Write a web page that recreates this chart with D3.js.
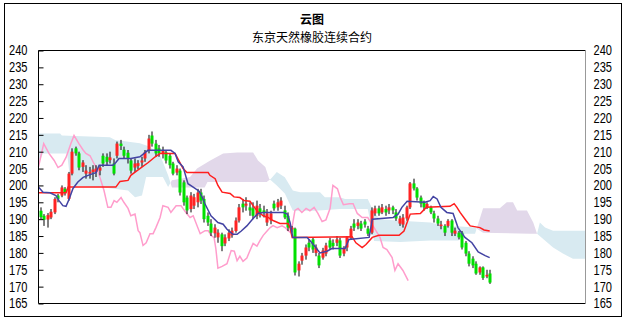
<!DOCTYPE html>
<html>
<head>
<meta charset="utf-8">
<script src="https://cdn.jsdelivr.net/npm/d3@7"></script>
<style>
    body { margin: 0; background: #fff; }
</style>
</head>
<body>
<div id="chart"></div>
<script>

// titles
const chartTitle = "云图";
const chartSubtitle = "东京天然橡胶连续合约";

// y axis tick labels
const yTicks = [240, 235, 230, 225, 220, 215, 210, 205, 200, 195, 190, 185, 180, 175, 170, 165];

// daily candles (index 0 = first bar on the left)
const opens = [192.5,191,189.9,190.5,192,197,197,199,196,203.5,211,209.5,205.5,203.5,203.5,204,204,204.4,208.8,208.5,
    207.5,206.5,208.8,212.4,210.6,209.7,207.4,205.3,205.8,206.8,208,210.4,214.8,212.4,211,209.5,209.8,208.8,206.5,203.8,
    204.4,200.9,196.4,193,194,195,197.9,196,191,188.7,185.8,184.6,185.5,182.8,184.3,185.2,186.5,189.6,194.6,194,
    193.5,193.2,191,193.2,192.6,189,189.6,194.6,193.5,194,192.6,191,187,187.2,174.8,177.7,179.2,183,184,180,
    179.2,178.6,179.8,183.7,183,183,183.7,179.8,181.6,184.6,188.7,188,188.7,189.3,187.2,186,191.7,193.2,192,193,
    192.6,193.5,192,188.7,188.4,190.2,193.5,200.6,199.1,196.4,195,193.5,193.5,191.7,190.2,188,188,188,189.6,185.7,
    186,186,183,179.8,178.3,176.8,174.2,175.7,173,173.9];
const closes = [190.6,189.8,191.2,192.2,196,196,199.4,198,203.5,210,209.5,205.3,206.8,204.4,204,204.7,205,205.3,206.5,207,
    208.3,203.5,212.4,211.7,208.8,208,204.4,206.5,206.6,207.4,209.8,213.9,212.4,209.5,209.5,210.4,207.4,206,203.5,205,
    197.9,195,192.6,197,196.5,197.9,195.5,190,189,186,187.5,186,182,184.6,186,186.6,189.6,193.5,193.5,194.6,
    192.6,191,194,191.7,192,191.7,191.7,193.2,195,195.5,190.5,187.5,187.5,174.2,176.8,179.2,181.6,181.6,181,181.6,
    176.3,180.7,182.2,181.6,182,184,179.2,181.3,184.6,187.2,187.5,189,187.2,188.4,185.7,192.6,193.2,191.7,193.5,192,
    193.5,192.6,190.2,190.2,190.5,193.5,200.6,199.1,196.4,194.6,193.5,194.5,192,190.2,188.7,188.4,186,189.5,186,186.6,
    184.6,181.6,179.8,176.8,176.3,173.9,175.7,172.6,173.5,171.2];
const highs = [193.5,191.5,191.8,193,196.5,197.5,200,199.5,204,211,211.5,210,207.5,206,205.5,206,206,206,209.5,209.5,
    210,208,213,213.5,211.5,210.5,208,208,207.5,208.5,210.5,215,216,213.5,212,211.5,210.5,209.5,207,206,
    205,201.5,197,198,197.5,199,199,197,192,190,188.5,187,186,185.5,187,187.5,190.5,194.5,196,196.5,
    195,195,195.5,194.5,194,193,192.5,195.5,196,196.5,194,192,188,187.5,177.5,180,182.5,184,184.6,182.5,
    180,181.5,183,184.5,184,185,184.5,182,185,188,190,190,189.5,190,188,193.5,194,194,194.5,194,
    194.5,194,193,191,191.5,194,201,202,199.5,197,195.5,195,194,192.5,191,189.5,188.5,190,190,187.5,
    186.5,186.5,183.5,180.5,179,177.5,176,176,175,175];
const lows = [190,188,187.5,190,191.5,195,196.5,197,195.5,203,208.8,204.5,204,202,202,201.5,202.5,203,205.5,206,
    206.5,203,208,210.5,208,206.5,203.5,204,204.8,205.5,207,209.5,211.5,208.5,208.5,208,206.5,205,203,203,
    197,194,191.5,192,193,193.5,194.5,189,188,185,184.5,183,180.5,182,183.5,184.5,186,189,192,192.5,
    191,190,190,190.5,190.5,188,188.5,192.5,192.5,193,190,186.5,186,173.3,173,176.5,178,180.5,180,179,
    175.5,178,179,181,181,182,178.5,179,180.5,184,186.5,187,186.5,187.5,185,185.5,191,191,191.5,191,
    191.5,191.5,189.5,188,187.5,189.5,193,198.5,195.5,193.5,192.5,193,191.5,189,188,187,185,187.5,185,185,
    184,181,179,176,175.5,173.5,173.5,172,172.5,170.8];

// indicator lines, [bar index, value]
const tenkanPts = [[-0.5,199.5],[0.8,198],[2.8,197.8],[4.5,197],[5.4,195.5],[6.5,194],[7.4,193.8],[8.3,196],[9.4,199.1],
    [10.8,201],[12.3,202.4],[14.3,203.2],[16,203.8],[16.9,206],[20.9,206],[21.7,206.8],[22.6,208],[26,208],[28.6,208.5],
    [30.9,210.4],[37.5,210.4],[38.7,209.5],[39.6,207],[41,205.5],[42.4,200.5],[43.9,199.5],[45.6,198.3],[46.5,196.5],
    [47.3,194.5],[49,191],[51,189],[52.5,188.5],[53.6,187],[55.3,185.5],[56.5,185.5],[57.7,186.5],[59.3,188],[61.1,190.2],
    [62.5,191.7],[64,192],[69.7,192],[70.9,191.5],[71.7,189],[72.5,184.6],[76.6,184.6],[77.4,183.7],[78.6,182.2],[80.3,180],
    [82.3,180.5],[83.7,181.3],[87.5,181.3],[88.6,184],[94.4,184.6],[95.3,190],[101.3,190.5],[102.7,191.5],[103.8,193.5],
    [105.3,195.3],[110.4,195],[111.9,195.5],[112.8,196.7],[113.9,196],[115,193.5],[116.7,192],[118.5,191.7],[119.9,187.5],
    [121.9,184.6],[123.9,183],[125.7,180.3],[127.7,179.2],[129,178.6]];
const kijunPts = [[-0.5,197.8],[7.4,197.8],[8,199.5],[21.7,199.5],[22.9,201.2],[25.2,201.5],[26,203],[27.8,204.4],[31,206.8],
    [33,208.5],[34.4,209.5],[38.7,209.5],[41,205],[42.1,203.8],[48.2,203.8],[48.7,203],[50.2,202],[51,200],[52.2,198],
    [54.5,197.6],[55.6,196.6],[57.3,196.4],[58.5,195.5],[60.2,195.3],[61.1,194],[62.2,192.5],[64,191],[65.4,190.5],
    [66.8,189.6],[68.8,188.7],[71.1,188.7],[71.7,187.5],[72.3,184.6],[89.5,184.8],[90.6,183],[92.4,181.6],[93.5,182.5],
    [95.3,184.6],[97.2,185.2],[103,185.2],[104.4,186.5],[105.3,189],[106.2,191.5],[109.1,191.7],[110.8,193.5],[117.6,193.8],
    [118.8,194.6],[119.6,193.5],[120.5,192],[122.2,189.6],[123.4,188],[126.2,187.5],[127.4,186.8],[129,186.5]];
const chikouPts = [[-0.5,205.5],[1,212.4],[2.5,209.5],[4,207.4],[5.1,205.3],[6.2,206],[7.4,208.3],[8.8,212.4],[9.7,214.8],
    [11.1,212.4],[12.3,210.5],[13.1,209.5],[14.3,208.8],[15.4,206.5],[16.3,205],[17.4,201.5],[18.3,198.5],[19.4,193.5],
    [20.3,193.5],[21.2,195.5],[22,195],[23.2,196.4],[24,195],[25.2,193.2],[26,191],[27.2,191.5],[28.1,186.6],[28.6,186],
    [29.5,182.2],[30.4,183],[31.5,185.7],[32.4,185.7],[33.2,187.5],[34.4,190.5],[35.2,194],[36.7,193.5],[37.5,192],
    [39,194],[40.4,194],[41.8,192],[43,190.5],[43.9,191],[45.9,185.7],[47.3,186.6],[48.2,186.6],[49,185.2],[49.9,184.5],
    [50.4,181.3],[51,175.5],[52.2,176],[53.6,176.8],[54.8,180.7],[55.7,180.5],[56.5,177.7],[57.3,179],[58.2,177.5],
    [59.3,178.5],[60.2,180.7],[61.1,182.8],[62.2,182],[63.1,183.7],[64,185.2],[65.1,186.5],[66,187.5],[66.8,188.1],
    [68,187.5],[69.4,188],[70.3,187.5],[71.1,186.6],[72,186],[73.1,192.6],[74,193.2],[75.1,192],[76.3,193.2],[77.4,192.5],
    [78.6,193.5],[79.7,191.7],[80.9,189.3],[82,189.8],[83.2,193.2],[84,200],[85.3,199],[86.1,196.4],[87,194.3],
    [88.7,194.6],[89.8,194.6],[91,191.7],[92.4,190.5],[94,190.5],[95.5,188],[97.5,184.6],[98.4,181.6],[99.5,181],
    [101,178.6],[101.8,174.8],[102.7,176.8],[104.1,174.8],[105.6,171.8]];

// cloud edges (leading spans), extend 26 bars past the last candle
const spanAPts = [[-0.5,215.4],[5.7,215.4],[6.2,214.8],[20,214.3],[21.5,213.5],[28.6,212.5],[31.5,211.5],[34.4,209],
    [36.7,203],[37.8,199.4],[47.2,199.4],[48,201],[65,201],[66.2,202],[67.9,204],[70.2,202.4],[72.5,198.5],[74.6,198],
    [80.3,198],[81.7,196.5],[86,196.5],[87.5,196],[94,196],[95.8,192],[97.5,190],[103.3,189.5],[112,189],[116.2,188],
    [120.5,187.8],[124.8,187.5],[127.1,186],[140.6,185.7],[142.6,185.7],[143.4,189],[144.9,187.5],[147.2,186.6],[156.5,186.6]];
const spanBPts = [[-0.5,206.5],[0.8,209.5],[7.7,209.5],[8.8,200],[17.1,199.5],[25.2,198.5],[27.2,196.5],[29.2,197],
    [30.4,202.5],[35.2,202.5],[36.7,199.5],[37.8,201.5],[43,202.5],[45,205],[48.8,207.4],[52.5,209.5],[56.5,209.8],
    [61.1,209.8],[62.5,207.4],[64.6,205.5],[65.7,202],[67.9,200],[70.2,197.6],[72.5,192.5],[78.9,192.5],[86,193],
    [94,193],[95.8,183.5],[103.3,183.2],[112,183.7],[120,183.7],[122,185.7],[124.8,185.7],[127.1,193.2],[131.9,193.2],
    [133.9,195],[135.7,195],[136.9,192.6],[139.7,192.6],[141.5,189],[142.6,185.7],[147.2,181.6],[150,179.8],
    [152.9,178.3],[156.5,178.3]];


class CloudChart {

    constructor(parentElement) {
        this.parentElement = parentElement;
        this.displayData = [];
        this.initVis();
    }

    initVis() {
        let vis = this;

        vis.margin = { top: 50.5, right: 38.5, bottom: 18.5, left: 38.5 };
        vis.width = 624 - vis.margin.left - vis.margin.right;
        vis.height = 322 - vis.margin.top - vis.margin.bottom;

        vis.root = d3.select("#" + vis.parentElement).append("svg")
            .attr("width", 624)
            .attr("height", 322)
            .style("display", "block");

        // outer frame
        vis.root.append("rect")
            .attr("x", 4.5).attr("y", 3.5)
            .attr("width", 617).attr("height", 313)
            .attr("fill", "#fff")
            .attr("stroke", "#000");

        vis.root.append("text")
            .attr("x", 312).attr("y", 24)
            .attr("text-anchor", "middle")
            .attr("font-family", "'Noto Sans CJK SC', sans-serif")
            .attr("font-size", 12)
            .attr("font-weight", "bold")
            .text(chartTitle);

        vis.root.append("text")
            .attr("x", 312).attr("y", 42)
            .attr("text-anchor", "middle")
            .attr("font-family", "'Noto Sans CJK SC', sans-serif")
            .attr("font-size", 12)
            .text(chartSubtitle);

        vis.svg = vis.root.append("g")
            .attr("transform", "translate(" + vis.margin.left + "," + vis.margin.top + ")");

        // 130 bars + 27 slots for the cloud ahead
        vis.x = d3.scaleLinear()
            .domain([-0.5, 156.5])
            .range([0, vis.width]);

        vis.y = d3.scaleLinear()
            .domain([165, 240])
            .range([vis.height, 0]);

        vis.wrangleData();
    }

    wrangleData() {
        let vis = this;

        vis.displayData = opens.map((o, i) => ({
            i: i, open: o, close: closes[i], high: highs[i], low: lows[i]
        }));

        vis.updateVis();
    }

    updateVis() {
        let vis = this;
        let defs = vis.root.append("defs");

        // cloud: blue where span A is above span B, lilac where below
        let belowArea = d3.area().x(d => vis.x(d[0])).y0(vis.height).y1(d => vis.y(d[1]));
        let aboveArea = d3.area().x(d => vis.x(d[0])).y0(0).y1(d => vis.y(d[1]));

        defs.append("clipPath").attr("id", "aboveB")
            .append("path").attr("d", aboveArea(spanBPts));
        defs.append("clipPath").attr("id", "belowB")
            .append("path").attr("d", belowArea(spanBPts));

        vis.svg.append("path")
            .attr("d", belowArea(spanAPts))
            .attr("fill", "#d8eaf1")
            .attr("clip-path", "url(#aboveB)");
        vis.svg.append("path")
            .attr("d", aboveArea(spanAPts))
            .attr("fill", "#e2d8ea")
            .attr("clip-path", "url(#belowB)");

        let line = d3.line().x(d => vis.x(d[0])).y(d => vis.y(d[1]));

        vis.svg.append("path")
            .attr("d", line(chikouPts))
            .attr("fill", "none")
            .attr("stroke", "#ff9dcc")
            .attr("stroke-width", 1.5);

        // candles
        let bw = 3;
        let candles = vis.svg.append("g").selectAll("g")
            .data(vis.displayData)
            .enter().append("g");

        candles.append("line")
            .attr("x1", d => Math.round(vis.x(d.i)) + 0.5)
            .attr("x2", d => Math.round(vis.x(d.i)) + 0.5)
            .attr("y1", d => vis.y(d.high))
            .attr("y2", d => vis.y(d.low))
            .attr("stroke", "#000")
            .attr("stroke-width", 1);

        candles.append("rect")
            .attr("x", d => Math.round(vis.x(d.i)) - 1)
            .attr("y", d => vis.y(Math.max(d.open, d.close)))
            .attr("width", bw)
            .attr("height", d => Math.max(1.5, Math.abs(vis.y(d.open) - vis.y(d.close))))
            .attr("fill", d => d.close >= d.open ? "#ff2323" : "#00e000");

        vis.svg.append("path")
            .attr("d", line(kijunPts))
            .attr("fill", "none")
            .attr("stroke", "#ff1e1e")
            .attr("stroke-width", 1.5);

        vis.svg.append("path")
            .attr("d", line(tenkanPts))
            .attr("fill", "none")
            .attr("stroke", "#4343a3")
            .attr("stroke-width", 1.5);

        // axes
        let leftAxis = vis.svg.append("g")
            .call(d3.axisLeft(vis.y).tickValues(yTicks).tickSizeInner(-5).tickSizeOuter(0).tickPadding(11));
        leftAxis.select(".domain").remove();

        let rightAxis = vis.svg.append("g")
            .attr("transform", "translate(" + vis.width + ",0)")
            .call(d3.axisRight(vis.y).tickValues(yTicks).tickSize(0).tickPadding(8));
        rightAxis.select(".domain").remove();

        vis.svg.selectAll(".tick text")
            .attr("font-family", "'Liberation Sans', Arial, sans-serif")
            .attr("font-size", 14)
            .attr("fill", "#000")
            .attr("textLength", 18.5)
            .attr("lengthAdjust", "spacingAndGlyphs");
        vis.svg.selectAll(".tick line").attr("stroke", "#000");

        // plot frame: black on three sides, grey on the right
        vis.svg.append("path")
            .attr("d", "M" + vis.width + ",0H0V" + vis.height + "H" + vis.width)
            .attr("fill", "none")
            .attr("stroke", "#000");
        vis.svg.append("line")
            .attr("x1", vis.width).attr("x2", vis.width)
            .attr("y1", 0).attr("y2", vis.height)
            .attr("stroke", "#999");
    }
}

new CloudChart("chart");

</script>
</body>
</html>
